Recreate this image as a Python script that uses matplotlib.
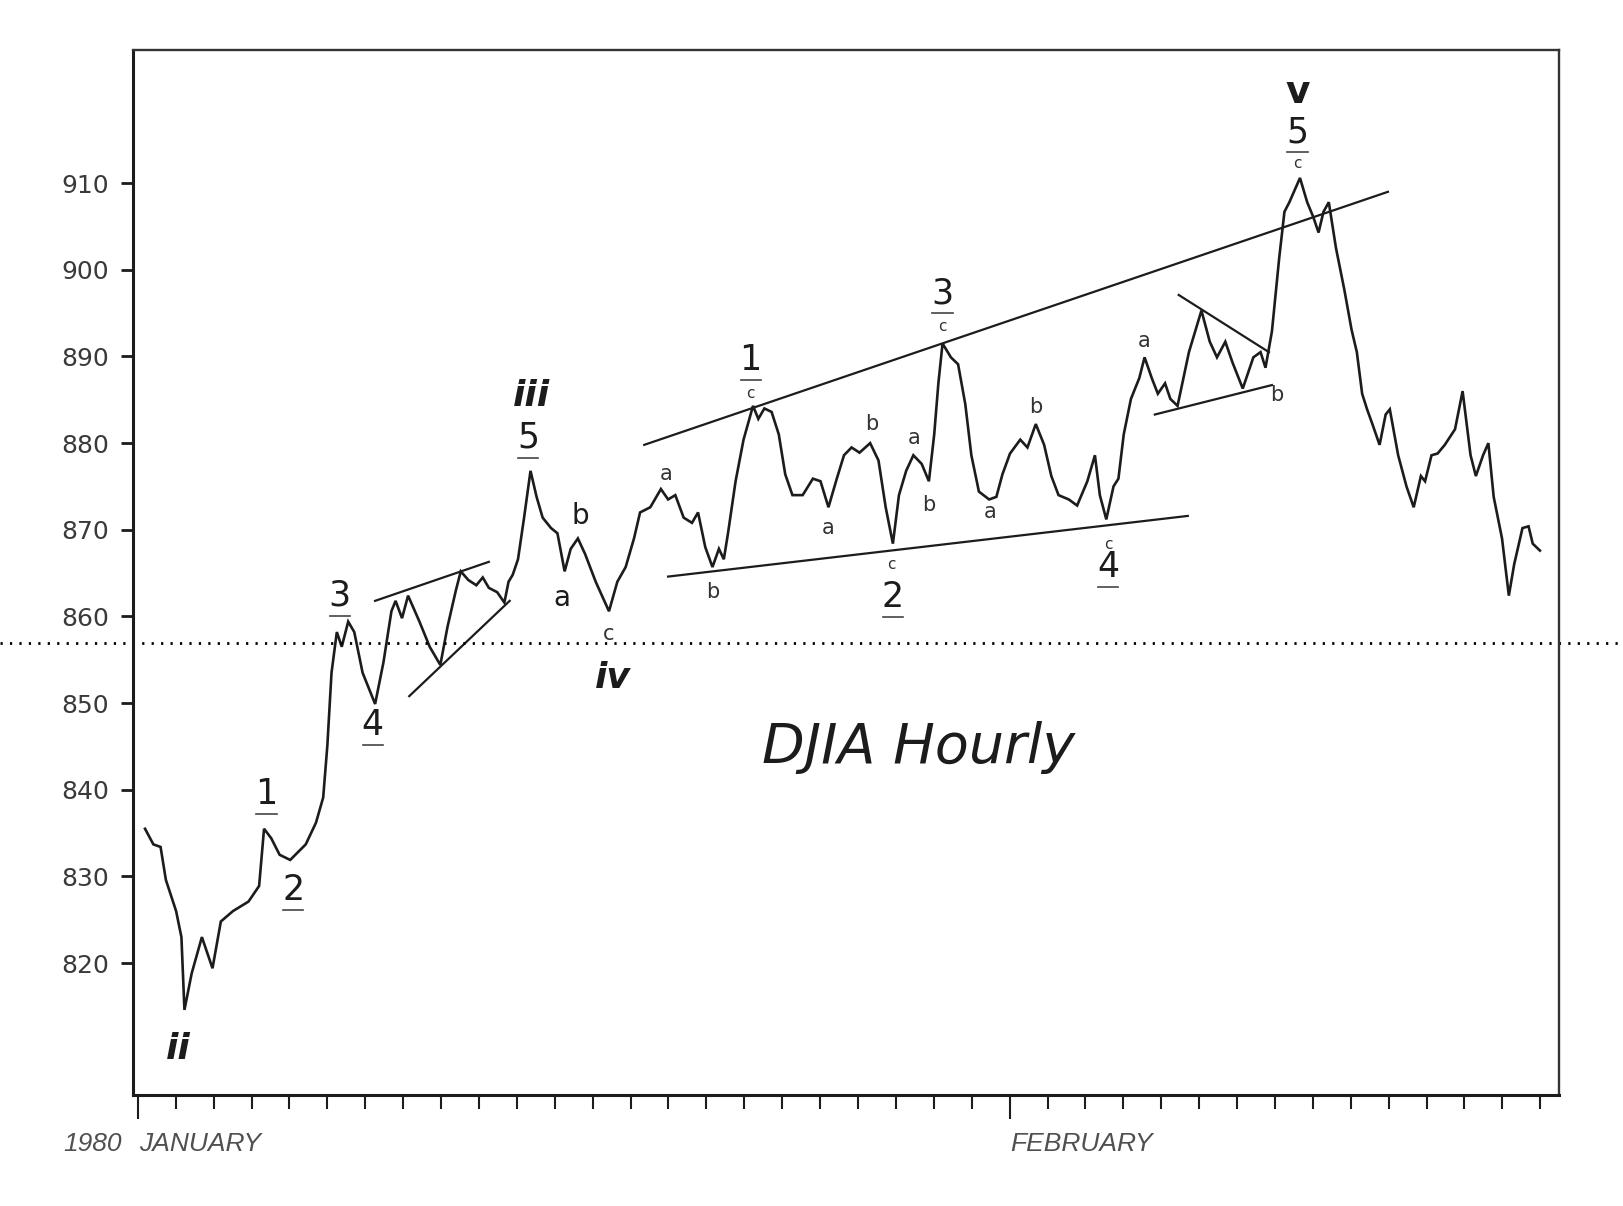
import matplotlib
matplotlib.use("Agg")
import matplotlib.pyplot as plt
from matplotlib.transforms import blended_transform_factory

# DJIA hourly, Jan-Feb 1980. x = trading days counted from the January tick
days = [0.19, 0.41, 0.60, 0.74, 1.01, 1.15, 1.23, 1.42, 1.69, 1.83, 1.97, 2.19, 2.51, 2.92,
        3.20, 3.33, 3.52, 3.74, 4.02, 4.43, 4.70, 4.89, 5.00, 5.11, 5.25, 5.38, 5.55, 5.71,
        5.93, 6.26, 6.48, 6.69, 6.80, 6.97, 7.13, 7.43, 7.70, 7.98, 8.17, 8.39, 8.52, 8.72,
        8.93, 9.10, 9.26, 9.48, 9.67, 9.78, 9.89, 10.03, 10.19, 10.36, 10.52, 10.68, 10.90,
        11.07, 11.26, 11.42, 11.61, 11.80, 12.08, 12.43, 12.65, 12.87, 13.09, 13.25, 13.52,
        13.80, 13.99, 14.18, 14.40, 14.62, 14.78, 14.97, 15.16, 15.33, 15.46, 15.57, 15.77,
        15.98, 16.23, 16.37, 16.53, 16.72, 16.91, 17.08, 17.27, 17.54, 17.81, 18.01, 18.22,
        18.44, 18.63, 18.83, 19.04, 19.32, 19.54, 19.73, 19.92, 20.08, 20.27, 20.46, 20.68,
        20.87, 21.01, 21.12, 21.23, 21.45, 21.64, 21.83, 21.99, 22.19, 22.46, 22.65, 22.81,
        23.01, 23.28, 23.47, 23.69, 23.91, 24.10, 24.29, 24.56, 24.78, 25.05, 25.25, 25.38,
        25.55, 25.74, 25.87, 26.01, 26.20, 26.42, 26.56, 26.75, 26.91, 27.10, 27.24, 27.43,
        27.73, 28.06, 28.28, 28.47, 28.69, 28.88, 29.15, 29.43, 29.62, 29.75, 29.92, 30.11,
        30.25, 30.38, 30.66, 30.85, 31.01, 31.15, 31.28, 31.42, 31.61, 31.83, 32.02, 32.16,
        32.30, 32.43, 32.57, 32.76, 32.92, 33.03, 33.25, 33.47, 33.66, 33.85, 33.96, 34.13,
        34.29, 34.48, 34.75, 34.95, 35.16, 35.30, 35.49, 35.63, 35.77, 35.99, 36.17, 36.31,
        36.53, 36.69, 36.80, 36.99]
djia = [835.5, 833.7, 833.4, 829.6, 826.0, 823.0, 814.6, 818.8, 823.0, 821.2, 819.4, 824.8,
        826.0, 827.1, 828.9, 835.5, 834.4, 832.5, 831.9, 833.7, 836.2, 839.1, 845.1, 853.5,
        858.2, 856.5, 859.4, 858.2, 853.5, 849.9, 854.7, 860.6, 861.8, 859.8, 862.4, 859.4,
        856.5, 854.4, 858.8, 863.0, 865.2, 864.2, 863.6, 864.5, 863.3, 862.8, 861.6, 864.0,
        864.8, 866.6, 871.4, 876.8, 873.8, 871.4, 870.2, 869.6, 865.2, 867.8, 869.0, 867.2,
        864.0, 860.6, 864.0, 865.7, 869.0, 872.0, 872.6, 874.7, 873.5, 874.0, 871.4, 870.8,
        872.0, 868.0, 865.7, 867.8, 866.6, 869.6, 875.6, 880.4, 884.3, 882.8, 884.0, 883.6,
        881.0, 876.4, 874.0, 874.0, 875.9, 875.6, 872.6, 875.9, 878.6, 879.5, 878.9, 880.0,
        878.0, 872.6, 868.4, 874.0, 876.8, 878.6, 877.6, 875.6, 881.0, 886.9, 891.5, 889.9,
        889.1, 884.5, 878.6, 874.4, 873.5, 873.8, 876.4, 878.8, 880.4, 879.5, 882.2, 879.8,
        876.2, 874.0, 873.5, 872.8, 875.6, 878.6, 874.0, 871.2, 875.0, 875.9, 881.0, 885.1,
        887.5, 889.9, 887.5, 885.7, 886.9, 885.1, 884.3, 890.5, 895.3, 891.7, 889.9, 891.7,
        889.3, 886.3, 889.9, 890.5, 888.7, 892.9, 901.3, 906.7, 907.8, 910.6, 907.8, 906.1,
        904.3, 906.7, 907.8, 902.5, 897.7, 893.1, 890.5, 885.7, 883.9, 882.2, 879.8, 883.3,
        883.9, 878.6, 875.0, 872.6, 876.2, 875.6, 878.6, 878.8, 879.8, 881.6, 886.0, 878.6,
        876.2, 878.6, 880.0, 873.8, 869.0, 862.4, 866.0, 870.2, 870.4, 868.4, 867.6]

# trend lines drawn on the chart: (day, level) at both ends
trend_lines = [
    [(13.36, 879.8), (32.98, 909.0)],   # wedge top
    [(13.99, 864.6), (27.70, 871.6)],   # wedge bottom
    [(6.26, 861.8), (9.26, 866.3)],     # first triangle
    [(7.16, 850.8), (9.81, 861.8)],
    [(27.46, 897.1), (29.84, 890.5)],   # second triangle
    [(26.83, 883.3), (29.92, 886.7)],
]

y_ticks = [820, 830, 840, 850, 860, 870, 880, 890, 900, 910]
month_days = [0, 23]
month_names = ["JANUARY", "FEBRUARY"]
year_label = "1980"
dotted_level = 856.9

# wave labels
major_waves = [("ii", 1.07, 810.1), ("iii", 10.38, 885.4), ("iv", 12.54, 852.9)]
top_wave = ("v", 30.60, 920.4)
minor_waves = [("1", 3.39, 839.5), ("2", 4.10, 828.4), ("3", 5.33, 862.4), ("4", 6.20, 847.5),
               ("5", 10.30, 880.6), ("1", 16.17, 889.6), ("2", 19.92, 862.2), ("3", 21.23, 897.3),
               ("4", 25.60, 865.7), ("5", 30.60, 915.9)]
big_letters = [("a", 11.20, 862.1), ("b", 11.67, 871.6)]
small_letters = [("c", 12.43, 858.0), ("a", 13.93, 876.4), ("b", 15.16, 862.8), ("a", 18.22, 870.2),
                 ("b", 19.37, 882.2), ("a", 20.49, 880.6), ("b", 20.87, 872.9), ("a", 22.49, 872.0),
                 ("b", 23.69, 884.2), ("a", 26.56, 891.8), ("b", 30.05, 885.6)]
tiny_c = [(16.17, 885.7), (19.88, 866.0), (21.23, 893.4), (25.60, 868.3), (30.60, 912.3)]

ink = "#1c1c1c"

fig = plt.figure(figsize=(16.24, 12.06), dpi=100)
ax = fig.add_axes([0.0816, 0.0922, 0.8783, 0.8666])

# price line
ax.plot(days, djia, color=ink, lw=1.9, solid_joinstyle="miter")

for (x0, y0), (x1, y1) in trend_lines:
    ax.plot([x0, x1], [y0, y1], color=ink, lw=1.6)

# dotted reference line across the whole page
trans = blended_transform_factory(fig.transFigure, ax.transData)
ax.plot([0, 1], [dotted_level, dotted_level], transform=trans, clip_on=False,
        color="black", lw=2.0, linestyle=(0, (0.8, 2.6)))

# labels
for txt, x, y in major_waves:
    ax.text(x, y, txt, fontsize=26, fontweight="bold", style="italic",
            ha="center", va="center", color=ink)
ax.text(top_wave[1], top_wave[2], top_wave[0], fontsize=27, fontweight="bold",
        ha="center", va="center", color=ink)

for txt, x, y in minor_waves:
    ax.text(x, y, txt, fontsize=25, ha="center", va="center", color=ink)
    ax.plot([x - 0.27, x + 0.27], [y - 2.3, y - 2.3], color="#444444", lw=1.2)

for txt, x, y in big_letters:
    ax.text(x, y, txt, fontsize=20, ha="center", va="center", color=ink)
for txt, x, y in small_letters:
    ax.text(x, y, txt, fontsize=15, ha="center", va="center", color="#333333")
for x, y in tiny_c:
    ax.text(x, y, "c", fontsize=11, ha="center", va="center", color="#333333")

ax.text(20.60, 844.9, "DJIA Hourly", fontsize=40, style="italic",
        ha="center", va="center", color=ink)

# axes
ax.set_xlim(-0.14, 37.49)
ax.set_ylim(804.8, 925.4)
ax.set_yticks(y_ticks)
ax.set_yticklabels([str(t) for t in y_ticks], fontsize=18, color="#3a3a3a")
ax.tick_params(axis="y", direction="out", length=9, width=2, pad=8, color=ink)

ax.set_xticks(month_days)
ax.set_xticklabels([])
ax.set_xticks(range(0, 38), minor=True)
ax.tick_params(axis="x", which="major", direction="out", length=17, width=1.5, color=ink)
ax.tick_params(axis="x", which="minor", direction="out", length=10, width=1.5, color=ink)

# month names below the axis, italic like the original
xt = blended_transform_factory(ax.transData, ax.transAxes)
month_font = dict(fontsize=19, style="italic", color="#505050", va="center",
                  family=["Liberation Sans", "DejaVu Sans"])
ax.text(-0.42, -0.047, year_label, transform=xt, ha="right", **month_font)
for d, name in zip(month_days, month_names):
    ax.text(d + 0.02, -0.047, name, transform=xt, ha="left", **month_font)

for side in ["left", "bottom"]:
    ax.spines[side].set_linewidth(2.2)
    ax.spines[side].set_color(ink)
for side in ["top", "right"]:
    ax.spines[side].set_linewidth(1.7)
    ax.spines[side].set_color("#333333")

fig.savefig("out.png", dpi=100, facecolor="white")
plt.close(fig)
